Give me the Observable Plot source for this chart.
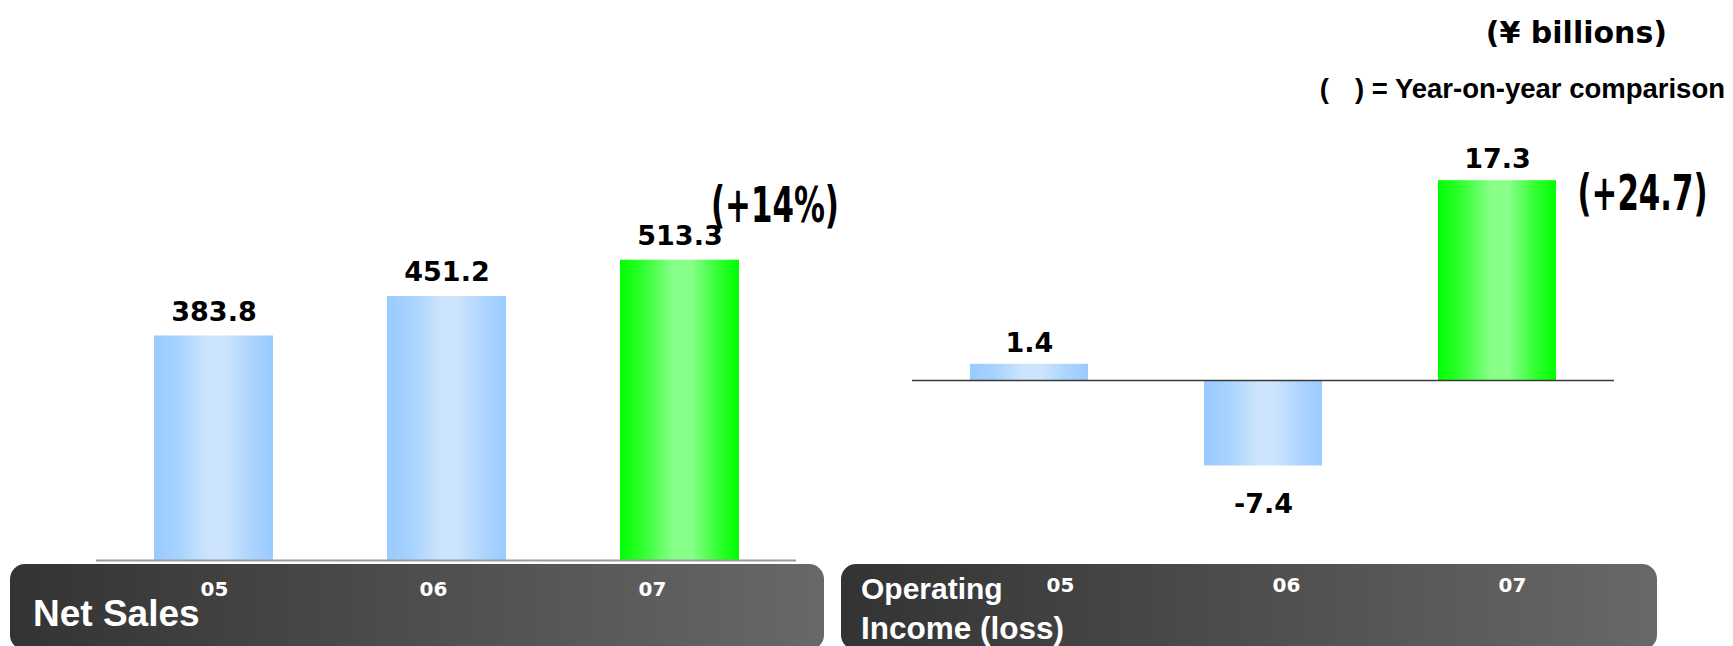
<!DOCTYPE html>
<html>
<head>
<meta charset="utf-8">
<script src="https://cdn.jsdelivr.net/npm/d3@7"></script>
<script src="https://cdn.jsdelivr.net/npm/@observablehq/plot@0.6"></script>
<style>
  html, body { margin: 0; padding: 0; background: #ffffff; }
  #stage { position: relative; width: 1733px; height: 646px; overflow: hidden; background: #ffffff; }
  .layer { position: absolute; left: 0; top: 0; width: 1733px; height: 646px; }
  .band { position: absolute; top: 564px; height: 86px; border-radius: 15px;
          background: linear-gradient(to right, #333333, #686868); }
  .txt { position: absolute; white-space: nowrap; line-height: 1; }
  .lib { font-family: "Liberation Sans", Arial, sans-serif; font-weight: bold; }
  .dej { font-family: "DejaVu Sans", sans-serif; font-weight: bold; }
</style>
</head>
<body>
<div id="stage">
  <svg width="0" height="0" style="position:absolute">
    <defs>
      <linearGradient id="gBlue" x1="0" x2="1" y1="0" y2="0">
        <stop offset="0%" stop-color="#99CBFF"/>
        <stop offset="20%" stop-color="#A6D2FF"/>
        <stop offset="45%" stop-color="#CCE4FD"/>
        <stop offset="60%" stop-color="#CCE4FD"/>
        <stop offset="82%" stop-color="#ACD4FF"/>
        <stop offset="100%" stop-color="#99CBFF"/>
      </linearGradient>
      <linearGradient id="gGreen" x1="0" x2="1" y1="0" y2="0">
        <stop offset="0%" stop-color="#00FF00"/>
        <stop offset="20%" stop-color="#33FF33"/>
        <stop offset="45%" stop-color="#88FF88"/>
        <stop offset="60%" stop-color="#88FF88"/>
        <stop offset="82%" stop-color="#33FF33"/>
        <stop offset="100%" stop-color="#00FF00"/>
      </linearGradient>
    </defs>
  </svg>
  <div class="band" style="left:10px; width:814px;"></div>
  <div class="band" style="left:841px; width:816px;"></div>
  <div id="salesPlot" class="layer"></div>
  <div id="salesAxis" class="layer"></div>
  <div id="incomePlot" class="layer"></div>
  <div id="incomeAxis" class="layer"></div>
  <div class="txt lib" style="left:33px; top:595px; font-size:37px; color:#fff;">Net Sales</div>
  <div class="txt lib" style="left:861px; top:574px; font-size:30px; color:#fff;">Operating</div>
  <div class="txt lib" style="left:861px; top:613px; font-size:31.5px; color:#fff;">Income (loss)</div>
  <div class="txt dej" style="right:66px; top:18px; font-size:30px; color:#000;">(¥ billions)</div>
  <div class="txt lib" style="right:8px; top:75px; font-size:27.5px; color:#000;">(<span style="display:inline-block;width:26px"></span>) = Year-on-year comparison</div>
</div>
<script>
// ---- data ----
const years = ["05", "06", "07"];
const netSales = [383.8, 451.2, 513.3];
const operatingIncome = [1.4, -7.4, 17.3];
const salesChangeLabel = "(+14%)";
const incomeChangeLabel = "(+24.7)";

const highlightYear = years[years.length - 1];
const salesData = years.map((year, i) => ({year, value: netSales[i]}));
const incomeData = years.map((year, i) => ({year, value: operatingIncome[i]}));

const W = 1733, H = 646;
const valueFont = "DejaVu Sans, sans-serif";
const condensedFont = "DejaVu Sans Condensed, DejaVu Sans, sans-serif";
const barFill = d => d.year === highlightYear ? "url(#gGreen)" : "url(#gBlue)";
const fmt = d => d.value.toFixed(1);
const transparent = {background: "transparent", overflow: "visible"};

// squeeze a text horizontally around its left edge (condensed look)
function condense(svg, label, length) {
  d3.select(svg).selectAll("text")
    .filter(function () { return this.textContent === label; })
    .each(function () {
      const b = this.getBBox();
      if (!b.width) return;
      const sx = length / b.width;
      const t = this.getAttribute("transform") || "";
      this.setAttribute("transform",
        `${t} translate(${b.x},0) scale(${sx},1) translate(${-b.x},0)`);
    });
}

// ---- Net Sales panel ----
const salesPlot = Plot.plot({
  width: W, height: H,
  marginLeft: 96, marginRight: W - 796, marginTop: 209, marginBottom: 86,
  style: transparent,
  x: {domain: years, paddingInner: 0.4914, paddingOuter: 0.2477, axis: null},
  y: {domain: [0, 600], axis: null},
  color: {type: "identity"},
  marks: [
    Plot.barY(salesData, {x: "year", y: "value", fill: barFill}),
    Plot.ruleY([0], {stroke: "#9a9a9a", strokeWidth: 2}),
    Plot.text(salesData, {x: "year", y: "value", text: fmt, dy: -24, lineAnchor: "middle",
      fontSize: 27, fontWeight: "bold", fontFamily: valueFont, fill: "#000"}),
    Plot.text(salesData.filter(d => d.year === highlightYear), {x: "year", y: "value",
      text: () => salesChangeLabel, textAnchor: "start", lineAnchor: "middle", dx: 31, dy: -54,
      fontSize: 50, fontWeight: "bold", fontFamily: condensedFont, fill: "#000"})
  ]
});
document.getElementById("salesPlot").append(salesPlot);
condense(salesPlot, salesChangeLabel, 128);

const salesAxis = Plot.plot({
  width: W, height: H,
  marginLeft: 103.25, marginRight: W - 761.75, marginTop: 0, marginBottom: 65,
  style: transparent,
  x: {type: "point", domain: years, padding: 0.5, axis: null},
  marks: [
    Plot.axisX({tickSize: 0, tickPadding: 0, label: null, fill: "#fff",
      fontSize: 20, fontWeight: "bold", fontFamily: valueFont})
  ]
});
document.getElementById("salesAxis").append(salesAxis);

// ---- Operating Income panel ----
const incomePlot = Plot.plot({
  width: W, height: H,
  marginLeft: 912, marginRight: W - 1614, marginTop: 149, marginBottom: 150.5,
  style: transparent,
  x: {domain: years, paddingInner: 0.4936, paddingOuter: 0.2468, axis: null},
  y: {domain: [-10, 20], axis: null},
  color: {type: "identity"},
  marks: [
    Plot.barY(incomeData, {x: "year", y: "value", fill: barFill}),
    Plot.ruleY([0], {stroke: "#3a3a3a", strokeWidth: 1.3}),
    Plot.text(incomeData.filter(d => d.value >= 0), {x: "year", y: "value", text: fmt, dy: -21,
      lineAnchor: "middle", fontSize: 27, fontWeight: "bold", fontFamily: valueFont, fill: "#000"}),
    Plot.text(incomeData.filter(d => d.value < 0), {x: "year", y: "value", text: fmt, dy: 38,
      lineAnchor: "middle", fontSize: 27, fontWeight: "bold", fontFamily: valueFont, fill: "#000"}),
    Plot.text(incomeData.filter(d => d.year === highlightYear), {x: "year", y: "value",
      text: () => incomeChangeLabel, textAnchor: "start", lineAnchor: "middle", dx: 80, dy: 13,
      fontSize: 50, fontWeight: "bold", fontFamily: condensedFont, fill: "#000"})
  ]
});
document.getElementById("incomePlot").append(incomePlot);
condense(incomePlot, incomeChangeLabel, 130);

const incomeAxis = Plot.plot({
  width: W, height: H,
  marginLeft: 945.75, marginRight: W - 1625.25, marginTop: 0, marginBottom: 69,
  style: transparent,
  x: {type: "point", domain: years, padding: 0.5, axis: null},
  marks: [
    Plot.axisX({tickSize: 0, tickPadding: 0, label: null, fill: "#fff",
      fontSize: 20, fontWeight: "bold", fontFamily: valueFont})
  ]
});
document.getElementById("incomeAxis").append(incomeAxis);
</script>
</body>
</html>
